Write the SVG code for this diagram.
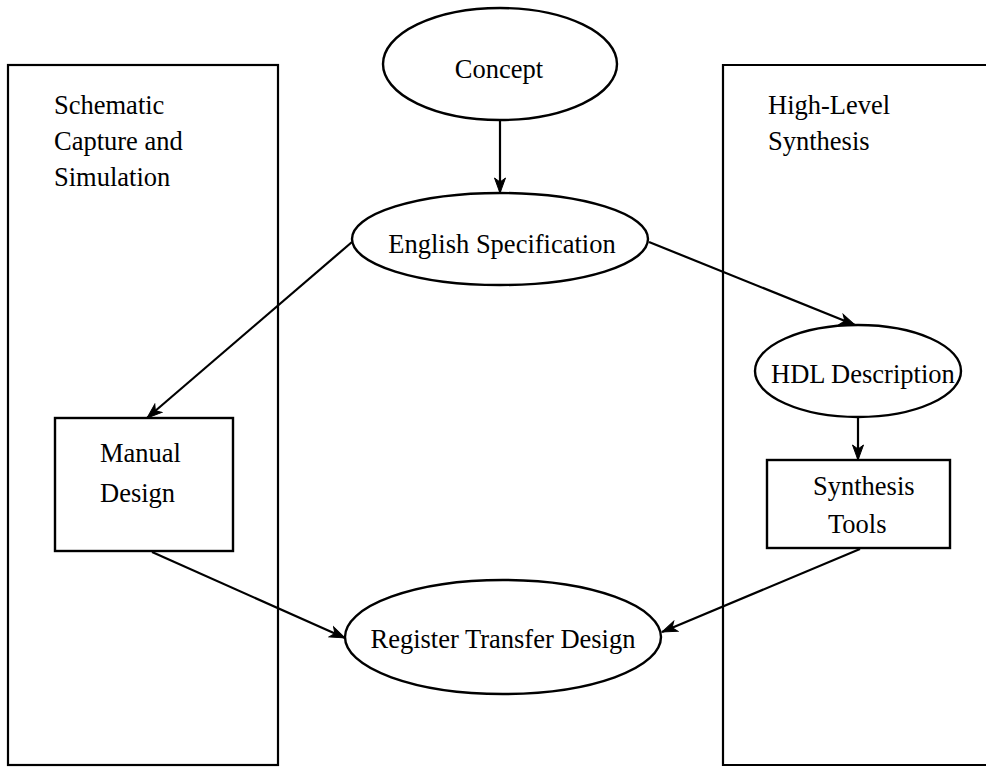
<svg xmlns="http://www.w3.org/2000/svg" width="986" height="774" viewBox="0 0 986 774">
<style>
.box{fill:none;stroke:#000;stroke-width:2.2}
.node{fill:#fff;stroke:#000;stroke-width:2.4}
.t{font-family:"Liberation Serif","Times New Roman",serif;font-size:26.5px;fill:#000}
.c{text-anchor:middle}
.edge{stroke:#000;stroke-width:2.2;fill:none;marker-end:url(#arr)}
</style>
<defs>
<marker id="arr" markerUnits="userSpaceOnUse" markerWidth="20" markerHeight="16" viewBox="-16 -8 20 16" refX="0" refY="0" orient="auto">
<path d="M-15,-5.5 L0,0 L-15,5.5 L-11,0 z" fill="#000" stroke="#000" stroke-width="1"/>
</marker>
</defs>
<rect width="986" height="774" fill="#fff"/>
<g id="schematic-panel">
<rect class="box" x="8" y="65" width="270" height="700"/>
<text class="t" x="54" y="114">Schematic</text>
<text class="t" x="54" y="150">Capture and</text>
<text class="t" x="54" y="186">Simulation</text>
</g>
<g id="hls-panel">
<path class="box" d="M990,65 H723 V765 H990"/>
<text class="t" x="768" y="114">High-Level</text>
<text class="t" x="768" y="150">Synthesis</text>
</g>
<g id="connectors">
<line class="edge" x1="500" y1="120" x2="500" y2="193"/>
<line class="edge" x1="352" y1="242" x2="147" y2="418"/>
<line class="edge" x1="649" y1="242" x2="855" y2="325"/>
<line class="edge" x1="858" y1="417" x2="858" y2="460"/>
<line class="edge" x1="152" y1="552" x2="345" y2="638"/>
<line class="edge" x1="860" y1="549" x2="662" y2="632"/>
</g>
<g id="concept">
<ellipse class="node" cx="500" cy="64" rx="117" ry="56"/>
<text class="t c" x="499" y="78">Concept</text>
</g>
<g id="english-spec">
<ellipse class="node" cx="500" cy="239" rx="148" ry="46"/>
<text class="t c" x="502" y="253">English Specification</text>
</g>
<g id="hdl-description">
<ellipse class="node" cx="858" cy="371" rx="103" ry="46"/>
<text class="t" x="771" y="383">HDL Description</text>
</g>
<g id="manual-design">
<rect class="node" x="55" y="418" width="178" height="133"/>
<text class="t" x="100" y="462">Manual</text>
<text class="t" x="100" y="502">Design</text>
</g>
<g id="synthesis-tools">
<rect class="node" x="767" y="460" width="183" height="88"/>
<text class="t" x="813" y="495">Synthesis</text>
<text class="t" x="828" y="533">Tools</text>
</g>
<g id="register-transfer">
<ellipse class="node" cx="503" cy="637" rx="158" ry="57"/>
<text class="t c" x="503" y="648">Register Transfer Design</text>
</g>
</svg>
